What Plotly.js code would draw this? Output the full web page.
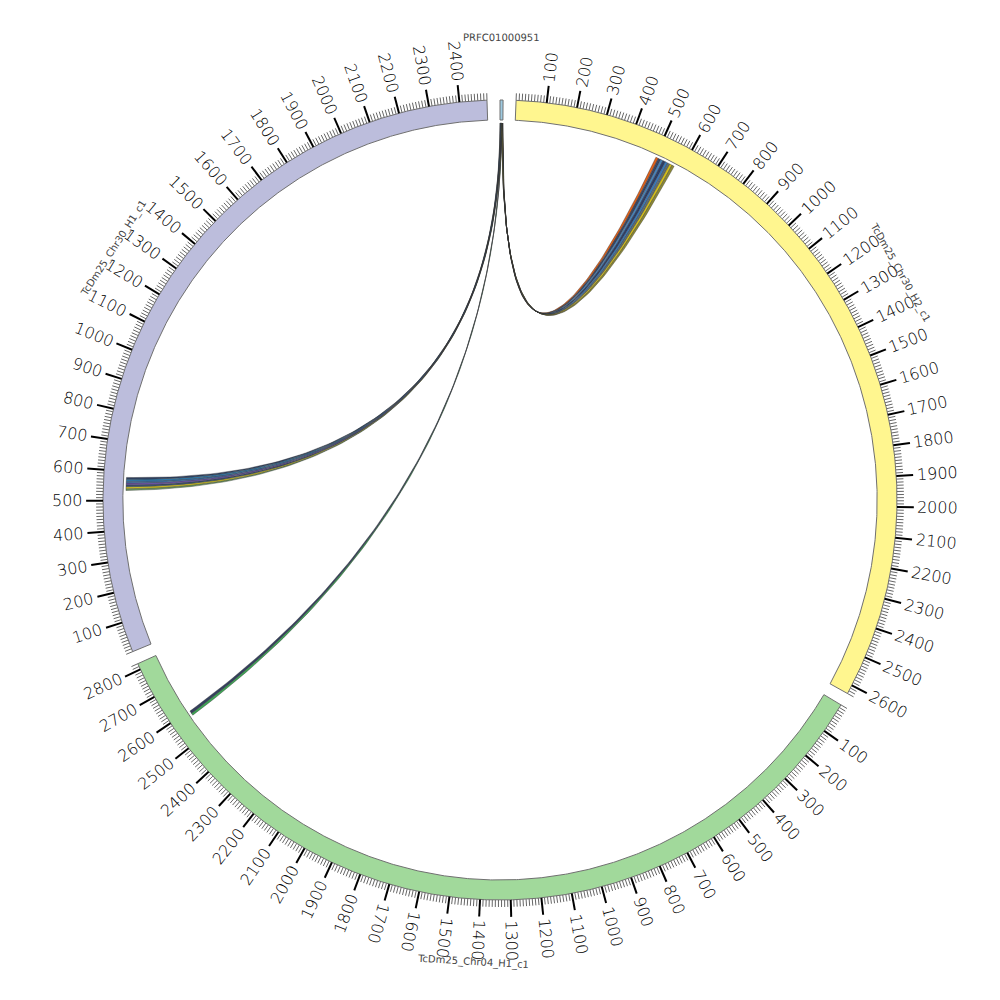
<!DOCTYPE html>
<html><head><meta charset="utf-8">
<script src="https://cdn.plot.ly/plotly-3.0.1.min.js"></script>
<style>body{margin:0;background:#fff}#chart{width:1000px;height:1000px}</style>
</head><body><div id="chart"></div>
<script>
// ---- segment data ----
const segNames   = ["PRFC01000951","TcDm25_Chr30_H2_c1","TcDm25_Chr04_H1_c1","TcDm25_Chr30_H1_c1"];
const segLengths = [10, 2630, 2820, 2490];
const segColors  = ["#9ecae1","#fff68f","#a1d99b","#bcbddc"];
const segShowTicks = [false, true, true, true];

// ---- link data (source always PRFC01000951) ----
const linkSrcStart = [9.6,9.2,8.8,8.4,8.0,7.6,7.2,6.8, 6.3,5.8, 4.8,4.0,3.2,2.4,1.6,0.8,0.0];
const linkSrcEnd   = [10.0,9.6,9.2,8.8,8.4,8.0,7.6,7.2, 6.8,6.3, 5.6,4.8,4.0,3.2,2.4,1.6,0.8];
const linkTgtSeg   = [1,1,1,1,1,1,1,1, 2,2, 3,3,3,3,3,3,3];
const linkTgtStart = [503,512,521,530,539,548,556,565, 2580,2588, 535,541,548,554,561,567,574];
const linkTgtEnd   = [512,521,530,539,548,556,565,573, 2588,2597, 541,548,554,561,567,574,580];
const linkColors   = ["#e0601a","#3a4663","#4a82b8","#2c3d68","#3c78b8","#5f6f76","#d2be1c","#8d8a33",
                      "#3ea556","#34405e",
                      "#6e9c62","#cfc426","#3c5577","#6a55a8","#3f74b0","#2f7fb5","#2e4266"];

// ---- layout constants (style) ----
const GAP = 1.88, START = 0.0;
const R_IN = 380, R_OUT = 400, R_LINK = 377;
const R_MINOR = 407, R_MAJOR = 417, R_LABEL = 421, R_NAME = 463;
const FS = 16, CHARW = 0.636 * 16;
const XS = 0.9925;
const FLIP_LO = 200;
const CTRL_Y = 15;

const total = segLengths.reduce((a,b)=>a+b,0);
const K = (360 - GAP*segLengths.length) / total;
const segStart = [];
{ let a = START; for (let i=0;i<segLengths.length;i++){ segStart.push(a); a += segLengths[i]*K + GAP; } }
const ang = (s,p) => segStart[s] + p*K;
const P = (deg, r) => { const a = deg*Math.PI/180; return [r*Math.sin(a), r*Math.cos(a)]; };

const traces = [];

function bez(p0, c, p2, n, xs, ys){
  for (let i=1;i<=n;i++){ const t=i/n, u=1-t;
    xs.push(u*u*p0[0]+2*u*t*c[0]+t*t*p2[0]); ys.push(u*u*p0[1]+2*u*t*c[1]+t*t*p2[1]); }
}
function arc(a0, a1, r, xs, ys){
  const n = Math.max(2, Math.ceil(Math.abs(a1-a0)/0.25));
  for (let i=0;i<=n;i++){ const p = P(a0+(a1-a0)*i/n, r); xs.push(p[0]); ys.push(p[1]); }
}
for (let i=0;i<linkColors.length;i++){
  const xs=[], ys=[];
  const s1 = ang(0, linkSrcStart[i]), s2 = ang(0, linkSrcEnd[i]);
  const t1 = ang(linkTgtSeg[i], linkTgtStart[i]), t2 = ang(linkTgtSeg[i], linkTgtEnd[i]);
  arc(s1, s2, R_LINK, xs, ys);
  bez(P(s2,R_LINK), [0,CTRL_Y], P(t1,R_LINK), 100, xs, ys);
  arc(t1, t2, R_LINK, xs, ys);
  bez(P(t2,R_LINK), [0,CTRL_Y], P(s1,R_LINK), 100, xs, ys);
  traces.push({type:'scatter', mode:'lines', x:xs, y:ys, fill:'toself', fillcolor:linkColors[i],
    line:{color:'#333', width:0.4}, hoverinfo:'skip', showlegend:false});
}

for (let s=0;s<segLengths.length;s++){
  const xs=[], ys=[];
  const a0 = segStart[s], a1 = ang(s, segLengths[s]);
  arc(a0, a1, R_OUT, xs, ys);
  arc(a1, a0, R_IN, xs, ys);
  xs.push(xs[0]); ys.push(ys[0]);
  traces.push({type:'scatter', mode:'lines', x:xs, y:ys, fill:'toself', fillcolor:segColors[s],
    line:{color:'#707070', width:1}, hoverinfo:'skip', showlegend:false});
}

const minX=[], minY=[], majX=[], majY=[];
const annotations = [];
for (let s=0;s<segLengths.length;s++){
  if (!segShowTicks[s]) continue;
  for (let p=0; p<=segLengths[s]; p+=10){
    const a = ang(s,p);
    if (p % 100 === 0 && p > 0){
      const q0=P(a,R_OUT), q1=P(a,R_MAJOR);
      majX.push(q0[0],q1[0],null); majY.push(q0[1],q1[1],null);
      const txt = String(p);
      const rc = R_LABEL + txt.length*CHARW/2;
      const c = P(a, rc);
      const flip = (a > FLIP_LO && a < 360);
      annotations.push({x:c[0], y:c[1], xref:'x', yref:'y', text:txt, showarrow:false,
        textangle: flip ? a-270 : a-90, xanchor:'center', yanchor:'middle',
        font:{family:'DejaVu Sans', size:FS, color:'#000', weight:300}});
    } else {
      const q0=P(a,R_OUT), q1=P(a,R_MINOR);
      minX.push(q0[0],q1[0],null); minY.push(q0[1],q1[1],null);
    }
  }
}
traces.push({type:'scatter', mode:'lines', x:minX, y:minY, line:{color:'#666', width:1}, hoverinfo:'skip', showlegend:false});
traces.push({type:'scatter', mode:'lines', x:majX, y:majY, line:{color:'#000', width:2}, hoverinfo:'skip', showlegend:false});

for (let s=0;s<segLengths.length;s++){
  const a = ang(s, segLengths[s]/2);
  let rot = a; while (rot > 90) rot -= 180; while (rot <= -90) rot += 180;
  const c = P(a, R_NAME);
  annotations.push({x:c[0], y:c[1], xref:'x', yref:'y', text:segNames[s], showarrow:false,
    textangle: rot, xanchor:'center', yanchor:'middle',
    font:{family:'DejaVu Sans', size:10, color:'#444'}});
}

const layout = {
  width:1000, height:1000, margin:{l:0,r:0,t:0,b:0},
  paper_bgcolor:'#fff', plot_bgcolor:'#fff', showlegend:false,
  xaxis:{range:[-500/XS, 500/XS], visible:false, fixedrange:true},
  yaxis:{range:[-500, 500], visible:false, fixedrange:true},
  annotations: annotations
};
Plotly.newPlot('chart', traces, layout, {staticPlot:true, displayModeBar:false});
</script>
</body></html>
